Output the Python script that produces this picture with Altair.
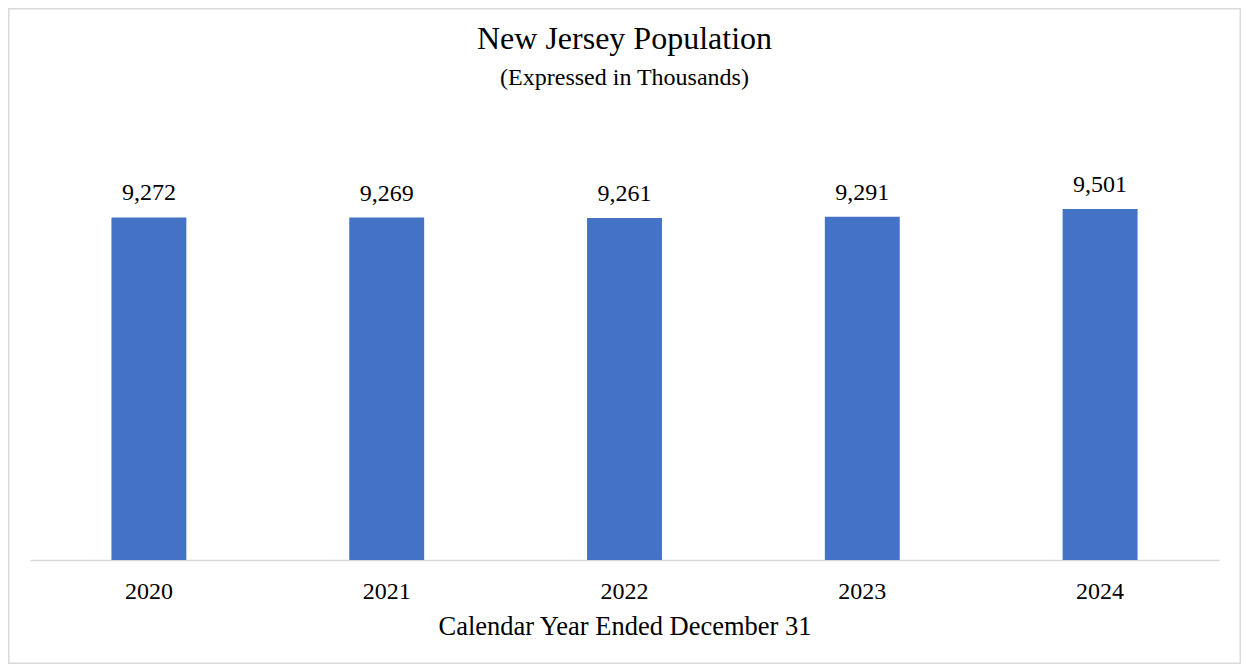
import altair as alt
import pandas as pd

years = ["2020", "2021", "2022", "2023", "2024"]
population = [9272, 9269, 9261, 9291, 9501]
title_text = "New Jersey Population"
subtitle_text = "(Expressed in Thousands)"
x_title = "Calendar Year Ended December 31"

df = pd.DataFrame({"Year": years, "Population": population})
FONT = "Liberation Serif"
W, H = 1189, 369.4
PAD_L, PAD_T, PAD_R, PAD_B = 22, 182.6, 22, 104
TOTAL_W, TOTAL_H = 1233, 656

x = alt.X(
    "Year:N", sort=years, title=x_title,
    scale=alt.Scale(paddingInner=0.685, paddingOuter=0.3425),
    axis=alt.Axis(labelAngle=0, labelFont=FONT, labelFontSize=24, labelColor="#000000",
                  labelPadding=19, ticks=False, tickSize=0, domainColor="#d9d9d9",
                  domainWidth=1.5, titleFont=FONT, titleFontSize=26.5,
                  titleFontWeight="normal", titleColor="#000000", titlePadding=10,
                  grid=False),
)
y = alt.Y("Population:Q", scale=alt.Scale(domain=[0, 10000]), axis=None)

base = alt.Chart(df)
bars = base.mark_bar(color="#4472C4").encode(x=x, y=y)
labels = base.mark_text(font=FONT, fontSize=24, dy=-17, baseline="alphabetic",
                        color="#000000").encode(
    x=x, y=y, text=alt.Text("Population:Q", format=","))

one = pd.DataFrame({"t": [title_text], "s": [subtitle_text]})
title_layer = alt.Chart(one).mark_text(font=FONT, fontSize=32, baseline="alphabetic",
                                       color="#000000").encode(
    x=alt.value(W / 2), y=alt.value(49 - 190.6), text="t:N")
subtitle_layer = alt.Chart(one).mark_text(font=FONT, fontSize=24, baseline="alphabetic",
                                          color="#000000").encode(
    x=alt.value(W / 2), y=alt.value(85 - 190.6), text="s:N")

border = alt.Chart(one).mark_rect(fillOpacity=0, stroke="#d9d9d9", strokeWidth=1.5).encode(
    x=alt.value(-PAD_L + 0.75), x2=alt.value(TOTAL_W - PAD_L - 0.75),
    y=alt.value(-PAD_T + 0.75), y2=alt.value(TOTAL_H - PAD_T - 0.75))

chart = alt.layer(border, bars, labels, title_layer, subtitle_layer).properties(
    width=W, height=H,
    autosize=alt.AutoSizeParams(type="none"),
    padding={"left": PAD_L, "top": PAD_T, "right": PAD_R, "bottom": PAD_B},
    background="#ffffff",
).configure_view(stroke=None)

chart.save("out.html", embed_options={"renderer": "svg", "actions": False})
